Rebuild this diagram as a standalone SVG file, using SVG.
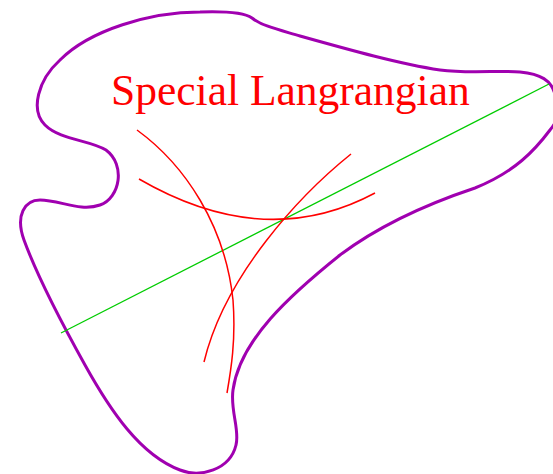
<svg xmlns="http://www.w3.org/2000/svg" width="553" height="474" viewBox="0 0 553 474">
<style>
.blob{fill:none;stroke:#a000b0;stroke-width:3}
.red{fill:none;stroke:#ff0000;stroke-width:1.5}
.green{fill:none;stroke:#00cc00;stroke-width:1.3}
.lbl{font-family:"Liberation Serif","Times New Roman",serif;font-size:43.5px;fill:#ff0000}
</style>
<rect width="553" height="474" fill="#ffffff"/>
<g id="region">
<path class="blob" d="M200,12 C230,11 245,13 252,18 C262,26 280,30 300,36 C350,50 400,64 440,70 C470,74 500,70 520,72 C540,74 552,80 555,95 C558,112 560,118 550,130 C535,150 515,172 475,188 C430,203 380,225 340,255 C290,295 240,340 233,390 C230,410 240,430 236,445 C230,470 200,478 180,470 C140,455 110,410 85,365 C60,320 35,270 24,240 C15,215 25,200 40,200 C60,200 80,212 100,205 C120,198 126,165 106,150 C90,140 60,140 45,125 C30,110 38,80 60,60 C90,30 150,12 200,12 Z"/>
</g>
<g id="connectors">
<line class="green" x1="61" y1="333" x2="549" y2="84"/>
<path class="red" d="M137,130 C185,165 225,225 233,300 C236,340 231,370 227,393"/>
<path class="red" d="M139,179 Q265,252 375,193"/>
<path class="red" d="M351,154 C300,195 225,275 204,362"/>
</g>
<g id="label">
<text class="lbl" x="111" y="105">Special Langrangian</text>
</g>
</svg>
